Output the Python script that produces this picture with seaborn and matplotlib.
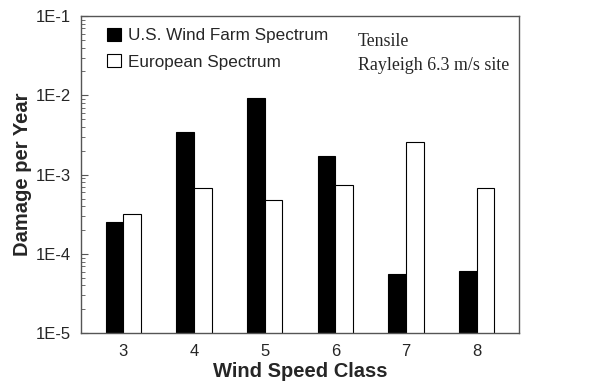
import numpy as np
import pandas as pd
import matplotlib
matplotlib.use('Agg')
import matplotlib.pyplot as plt
import seaborn as sns
from matplotlib.ticker import LogLocator, FixedFormatter, FixedLocator, NullFormatter

# Data
wind_classes = ['3', '4', '5', '6', '7', '8']
us_damage = [2.5e-4, 3.4e-3, 9.3e-3, 1.7e-3, 5.6e-5, 6.1e-5]
eu_damage = [3.15e-4, 6.7e-4, 4.8e-4, 7.3e-4, 2.55e-3, 6.7e-4]
series_names = ['U.S. Wind Farm Spectrum', 'European Spectrum']
ytick_labels = ['1E-5', '1E-4', '1E-3', '1E-2', '1E-1']

df = pd.DataFrame({
    'cls': wind_classes * 2,
    'damage': us_damage + eu_damage,
    'series': [series_names[0]] * 6 + [series_names[1]] * 6,
})

sns.set_style('white')
plt.rcParams['font.family'] = ['Liberation Sans', 'DejaVu Sans']

fig = plt.figure(figsize=(6.03, 3.92), dpi=100)
ax = fig.add_axes([0.134, 0.150, 0.727, 0.809])
ax.set_yscale('log')

sns.barplot(data=df, x='cls', y='damage', hue='series', order=wind_classes,
            hue_order=series_names, palette=['black', 'white'],
            edgecolor='black', linewidth=0.8, width=0.5, ax=ax)

ax.set_ylim(1e-5, 1e-1)
ax.set_xlim(-0.6, 5.6)
ax.yaxis.set_major_locator(FixedLocator([1e-5, 1e-4, 1e-3, 1e-2, 1e-1]))
ax.yaxis.set_major_formatter(FixedFormatter(ytick_labels))
ax.yaxis.set_minor_locator(LogLocator(base=10, subs=np.arange(2, 10)))
ax.yaxis.set_minor_formatter(NullFormatter())
ax.tick_params(axis='y', which='major', direction='in', length=5, width=0.8,
               color='#555555', labelsize=12, left=True, pad=7)
ax.tick_params(axis='y', which='minor', direction='in', length=3, width=0.6,
               color='#555555', left=True)
ax.tick_params(axis='x', length=0, labelsize=12, pad=8)

for sp in ax.spines.values():
    sp.set_visible(True)
    sp.set_color('#555555')
    sp.set_linewidth(1.0)

ax.set_xlabel('Wind Speed Class', fontsize=14.5, fontweight='bold', labelpad=2)
ax.set_ylabel('Damage per Year', fontsize=14.5, fontweight='bold', labelpad=3)

leg = ax.legend(loc='upper left', bbox_to_anchor=(0.045, 0.985), frameon=False,
                fontsize=12.3, handlelength=0.8, handleheight=0.8,
                handletextpad=0.4, borderaxespad=0.0, labelspacing=0.65)

ax.text(0.632, 0.921, 'Tensile', transform=ax.transAxes,
        family=['Liberation Serif'], fontsize=12.9, va='center')
ax.text(0.632, 0.845, 'Rayleigh 6.3 m/s site', transform=ax.transAxes,
        family=['Liberation Serif'], fontsize=12.9, va='center')

fig.savefig('out.png', dpi=100)
